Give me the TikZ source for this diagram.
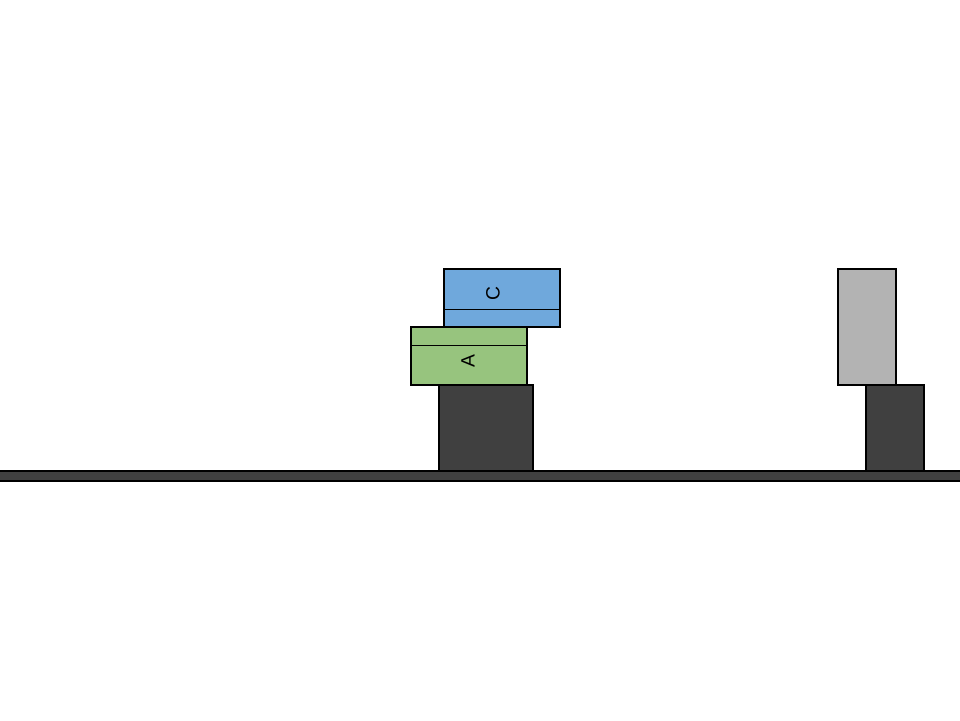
\documentclass[tikz,border=0pt]{standalone}
\usepackage{fontspec}
\setmainfont{Liberation Sans}
\usepackage{tikz}
\usetikzlibrary{positioning}

\definecolor{groundgray}{HTML}{404040}
\definecolor{blockgreen}{HTML}{97C47E}
\definecolor{blockblue}{HTML}{6FA8DC}
\definecolor{blockgray}{HTML}{B3B3B3}

\tikzset{
	pedestal/.style={draw=black,fill=groundgray,line width=0.6pt},
	boxA/.style={draw=black,fill=blockgreen,line width=0.6pt},
	boxC/.style={draw=black,fill=blockblue,line width=0.6pt},
	boxgray/.style={draw=black,fill=blockgray,line width=0.6pt},
	boxlabel/.style={inner sep=0pt,rotate=90,font=\fontsize{11}{13}\selectfont}
}

\begin{document}
\begin{tikzpicture}[x=0.02cm,y=-0.02cm]
	\useasboundingbox (0,0) rectangle (960,720);
	% ground
	\draw[pedestal] (-2,471) rectangle (962,481);
	% left stack
	\draw[pedestal] (439,385) rectangle (533,471);
	\draw[boxA] (411,327) rectangle (527,385);
	\draw (411,345) -- (527,345);
	\node[boxlabel] (a) at (468,361) {A};
	\draw[boxC] (444,269) rectangle (560,327);
	\draw (444,309) -- (560,309);
	\node[boxlabel] (c) at (493,294) {C};
	% right stack
	\draw[pedestal] (866,385) rectangle (924,471);
	\draw[boxgray] (838,269) rectangle (896,385);
\end{tikzpicture}
\end{document}
